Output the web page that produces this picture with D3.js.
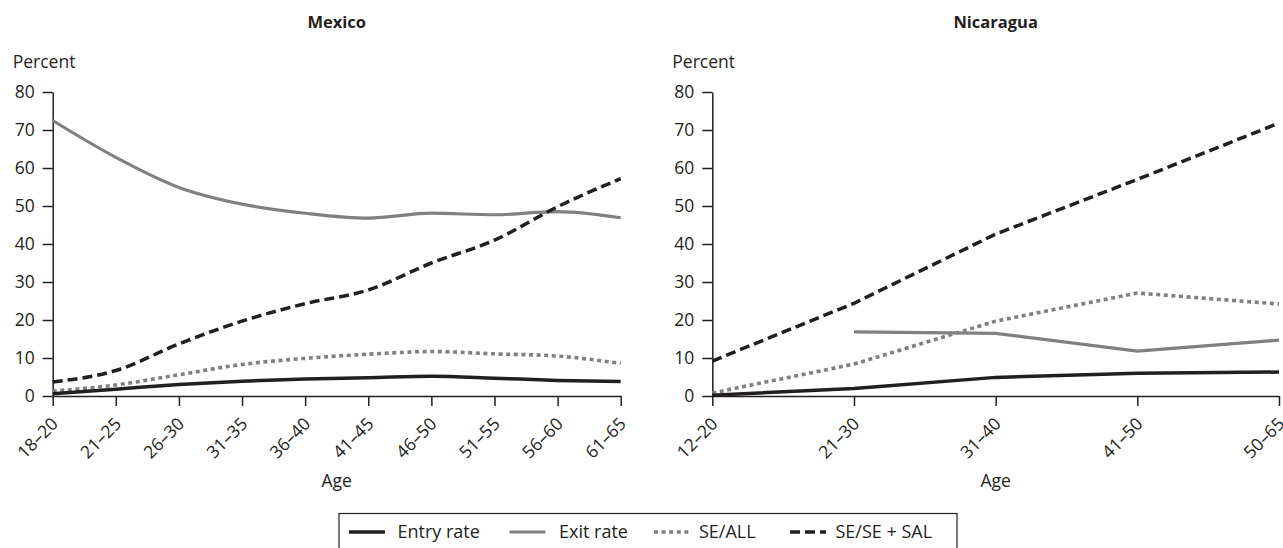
<!DOCTYPE html>
<html><head><meta charset="utf-8">
<script src="https://cdn.jsdelivr.net/npm/d3@7"></script>
<style>
body{margin:0;background:#fff}
text{font-family:"Open Sans",sans-serif;fill:#231f20}
</style>
</head><body><svg id="c" width="1283" height="548"></svg>
<script>
// ---- data ----
const seriesNames = ["Entry rate", "Exit rate", "SE/ALL", "SE/SE + SAL"];
const yTicks = [0, 10, 20, 30, 40, 50, 60, 70, 80];

const mexicoAges = ["18–20","21–25","26–30","31–35","36–40","41–45","46–50","51–55","56–60","61–65"];
const mexicoEntry = [0.6, 1.8, 3.0, 3.9, 4.5, 4.8, 5.2, 4.7, 4.1, 3.8];
const mexicoExit  = [72.5, 62.8, 54.9, 50.5, 48.1, 46.8, 48.1, 47.7, 48.5, 46.9];
const mexicoSeAll = [1.3, 2.9, 5.6, 8.3, 9.9, 11.0, 11.7, 11.1, 10.5, 8.6];
const mexicoSeSal = [3.7, 6.7, 13.7, 19.7, 24.3, 27.9, 35.0, 41.0, 49.8, 57.2];

const nicaraguaAges = ["12–20","21–30","31–40","41–50","50–65"];
const nicaraguaEntry = [0.2, 2.0, 4.9, 6.0, 6.3];
const nicaraguaExit  = [null, 16.9, 16.5, 11.8, 14.7];
const nicaraguaSeAll = [0.8, 8.4, 19.7, 27.1, 24.2];
const nicaraguaSeSal = [9.2, 24.4, 42.6, 57.0, 71.8];

// ---- styles ----
const ink = "#231f20", grey = "#808080";
const styles = [
  {color: ink,  width: 3.5, dash: null},
  {color: grey, width: 3.2, dash: null},
  {color: grey, width: 3.6, dash: "4,3.6"},
  {color: ink,  width: 3.5, dash: "10,5"}
];
const FS = "17.5px";

const svg = d3.select("#c");
const y = d3.scaleLinear().domain([0, 80]).range([396, 92]);

function panel(title, ages, series, x0, x1, curve) {
  const x = d3.scalePoint().domain(ages).range([x0, x1]).padding(0);
  const g = svg.append("g");
  g.append("text").attr("x", (x0 + x1) / 2).attr("y", 28).attr("text-anchor", "middle")
    .style("font-weight", "bold").style("font-size", "16.5px").text(title);
  g.append("text").attr("x", x0 - 40).attr("y", 68).style("font-size", FS).text("Percent");

  const ya = g.append("g").attr("transform", `translate(${x0},0)`)
    .call(d3.axisLeft(y).tickValues(yTicks).tickSize(10).tickSizeOuter(0).tickPadding(8));
  const xa = g.append("g").attr("transform", `translate(0,396)`)
    .call(d3.axisBottom(x).tickSize(10).tickSizeOuter(0).tickPadding(0));
  [ya, xa].forEach(a => {
    a.selectAll("path,line").attr("stroke", ink).attr("stroke-width", 1.5);
    a.selectAll("text").style("font-size", FS).attr("fill", ink).style("font-family", '"Open Sans",sans-serif');
  });
  xa.selectAll("text")
    .attr("text-anchor", "end")
    .attr("dy", "0")
    .attr("y", 0)
    .attr("transform", "translate(6,29) rotate(-45)");
  g.append("text").attr("x", (x0 + x1) / 2).attr("y", 487).attr("text-anchor", "middle")
    .style("font-size", FS).text("Age");

  const line = d3.line()
    .defined(d => d.v != null)
    .x(d => x(d.a)).y(d => y(d.v)).curve(curve);
  // draw order: exit, seall, sesal, entry
  [1, 2, 3, 0].forEach(i => {
    const data = ages.map((a, j) => ({a, v: series[i][j]}));
    const st = styles[i];
    g.append("path").datum(data).attr("d", line)
      .attr("fill", "none").attr("stroke", st.color).attr("stroke-width", st.width)
      .attr("stroke-dasharray", st.dash);
  });
}

panel("Mexico", mexicoAges, [mexicoEntry, mexicoExit, mexicoSeAll, mexicoSeSal], 52.7, 620.7, d3.curveMonotoneX);
panel("Nicaragua", nicaraguaAges, [nicaraguaEntry, nicaraguaExit, nicaraguaSeAll, nicaraguaSeSal], 712.3, 1279, d3.curveLinear);

// ---- legend ----
const legendLineX = [349, 509.5, 654, 790];
const legendTextX = [397.5, 559, 699, 835.5];
const lg = svg.append("g");
lg.append("rect").attr("x", 339).attr("y", 513.5).attr("width", 618).attr("height", 40)
  .attr("fill", "none").attr("stroke", ink).attr("stroke-width", 1.2);
seriesNames.forEach((name, i) => {
  const st = styles[i];
  lg.append("line").attr("x1", legendLineX[i]).attr("x2", legendLineX[i] + 36).attr("y1", 532).attr("y2", 532)
    .attr("stroke", st.color).attr("stroke-width", st.width).attr("stroke-dasharray", st.dash);
  lg.append("text").attr("x", legendTextX[i]).attr("y", 538).style("font-size", "18px").text(name);
});
</script>
</body></html>
